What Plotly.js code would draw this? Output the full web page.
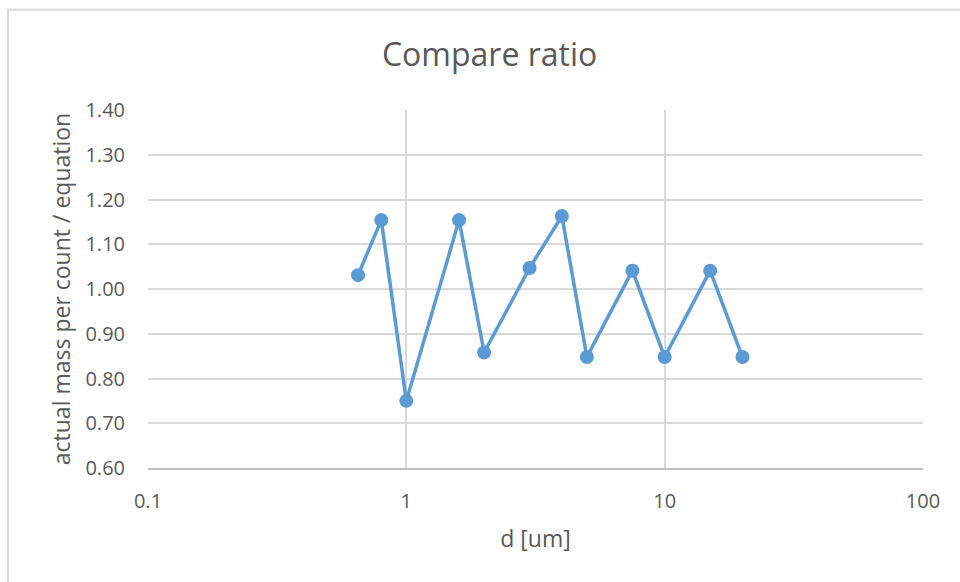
<!DOCTYPE html>
<html>
<head>
<meta charset="utf-8">
<script src="https://cdn.plot.ly/plotly-3.0.1.min.js"></script>
<style>html,body{margin:0;padding:0;background:#fff;}#chart{width:960px;height:582px;}</style>
</head>
<body>
<div id="chart"></div>
<script>
const diameters = [0.65, 0.8, 1.0, 1.6, 2.0, 3.0, 4.0, 5.0, 7.5, 10, 15, 20];
const ratios = [1.031, 1.154, 0.750, 1.154, 0.858, 1.047, 1.163, 0.848, 1.041, 0.848, 1.041, 0.848];
const xTickVals = [0.1, 1, 10, 100];
const xTickText = ["0.1", "1", "10", "100"];

const trace = {
  x: diameters,
  y: ratios,
  type: 'scatter',
  mode: 'lines+markers',
  line: {color: '#5b9bd5', width: 3.5},
  marker: {color: '#5b9bd5', size: 14},
  showlegend: false,
  hoverinfo: 'x+y'
};

const font = "'Open Sans', 'Segoe UI', sans-serif";
const layout = {
  width: 960, height: 582,
  paper_bgcolor: '#ffffff', plot_bgcolor: '#ffffff',
  margin: {l: 148, r: 37, t: 110, b: 114},
  title: {text: 'Compare ratio', x: 0.51, xanchor: 'center', y: 0.905, yanchor: 'middle',
          font: {family: font, size: 32, color: '#595959'}},
  xaxis: {
    type: 'log', range: [-1, 2],
    tickvals: xTickVals, ticktext: xTickText,
    showgrid: true, gridcolor: '#d9d9d9', gridwidth: 2,
    showline: true, linecolor: '#bfbfbf', linewidth: 2, mirror: false,
    zeroline: false, ticks: '',
    tickfont: {family: font, size: 20, color: '#595959'},
    ticklabelstandoff: 14,
    title: {text: 'd [um]', font: {family: font, size: 23, color: '#595959'}, standoff: 18}
  },
  yaxis: {
    range: [0.6, 1.4], dtick: 0.1, tickformat: '.2f',
    showgrid: true, gridcolor: '#d9d9d9', gridwidth: 2,
    showline: false, zeroline: false, ticks: '',
    tickfont: {family: font, size: 20, color: '#595959'},
    ticklabelstandoff: 22,
    title: {text: 'actual mass per count / equation', font: {family: font, size: 23, color: '#595959'}, standoff: 8}
  },
  shapes: [{
    type: 'rect', xref: 'paper', yref: 'paper',
    x0: -0.1806, x1: 1.06, y0: -0.37, y1: 1.28,
    line: {color: '#d9d9d9', width: 2}, fillcolor: 'rgba(0,0,0,0)', layer: 'below'
  }]
};

Plotly.newPlot('chart', [trace], layout, {displayModeBar: false, staticPlot: true});
</script>
</body>
</html>
